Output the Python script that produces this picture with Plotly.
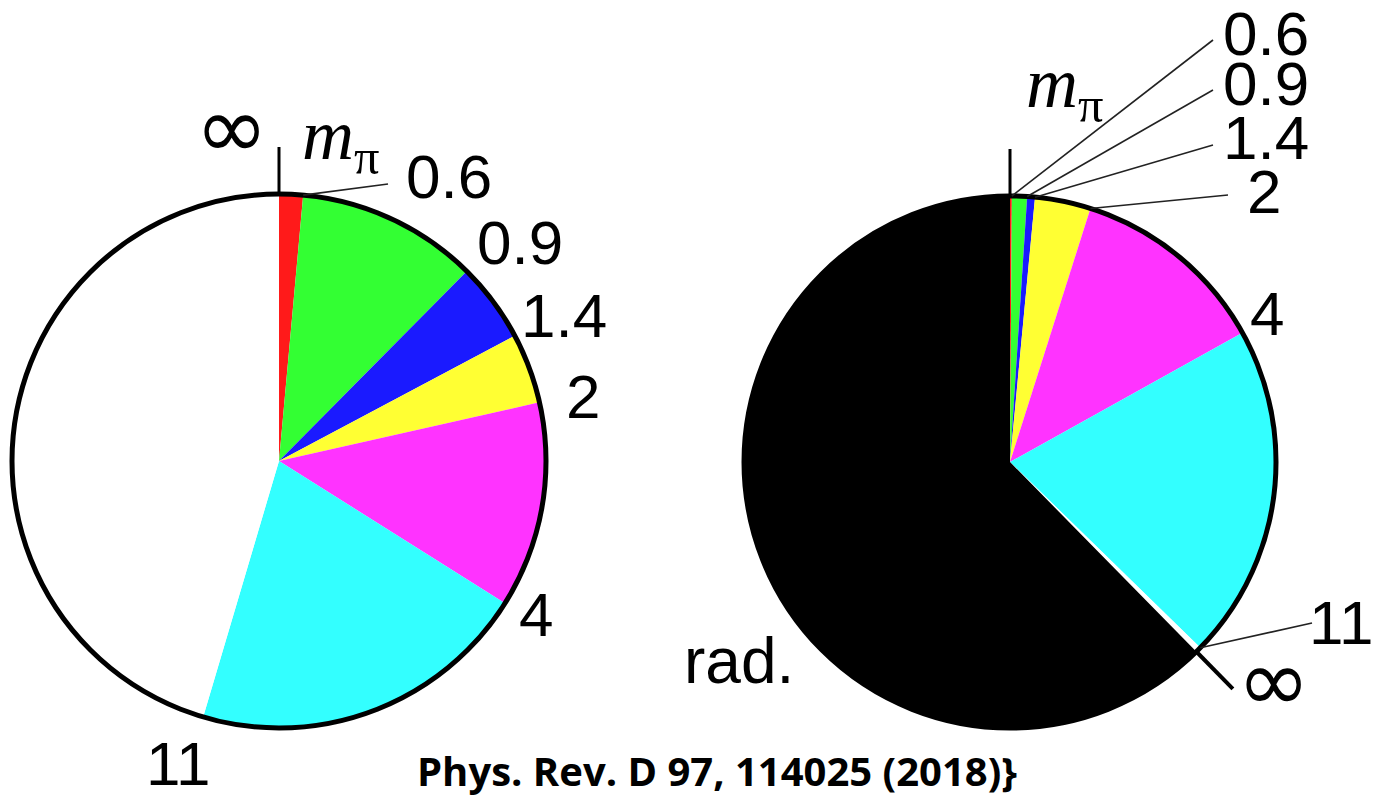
import numpy as np
import plotly.graph_objects as go

# ---------------- data ----------------
left_categories = ["mπ–0.6", "0.6–0.9", "0.9–1.4", "1.4–2", "2–4", "4–11", "11–∞"]
left_values = [5.2, 39.5, 17.3, 15.3, 44.9, 74.3, 163.5]          # degrees
left_colors = ["#ff1a1a", "#33ff33", "#1a1aff", "#ffff33", "#ff33ff", "#33ffff", "#ffffff"]

right_categories = ["mπ–0.6", "0.6–0.9", "0.9–1.4", "1.4–2", "2–4", "4–11", "11–∞", "rad."]
right_values = [0.4, 3.3, 1.7, 12.2, 43.3, 73.4, 1.2, 224.5]       # degrees
right_colors = ["#ff1a1a", "#33ff33", "#1a1aff", "#ffff33", "#ff33ff", "#33ffff", "#ffffff", "#000000"]

boundary_labels_left = ["0.6", "0.9", "1.4", "2", "4", "11"]
boundary_labels_right = ["0.6", "0.9", "1.4", "2", "4", "11"]
citation = "Phys. Rev. D 97, 114025 (2018)}"

# ---------------- layout helpers ----------------
W, H = 1377, 797
def px(x): return x / W
def py(y): return 1 - y / H

L = dict(cx=279, cy=461, r=267)
R = dict(cx=1010, cy=462, r=266)

def bpoint(g, ang, extra=0.0):
    a = np.radians(ang)
    rr = g["r"] + extra
    return g["cx"] + rr * np.sin(a), g["cy"] - rr * np.cos(a)

def cum_angles(vals):
    v = np.array(vals, dtype=float)
    return np.cumsum(v) / v.sum() * 360.0

fig = go.Figure()
for g, cats, vals, cols in [(L, left_categories, left_values, left_colors),
                            (R, right_categories, right_values, right_colors)]:
    fig.add_trace(go.Pie(
        labels=cats, values=vals, sort=False, direction="clockwise", rotation=0,
        marker=dict(colors=cols, line=dict(width=0)),
        textinfo="none", hoverinfo="label", showlegend=False,
        domain=dict(x=[px(g["cx"] - g["r"]), px(g["cx"] + g["r"])],
                    y=[py(g["cy"] + g["r"]), py(g["cy"] - g["r"])]),
    ))

shapes = []
def line(x0, y0, x1, y1, w=1.6, c="#222"):
    shapes.append(dict(type="line", xref="paper", yref="paper",
                       x0=px(x0), y0=py(y0), x1=px(x1), y1=py(y1),
                       line=dict(color=c, width=w)))

for g in (L, R):
    shapes.append(dict(type="circle", xref="paper", yref="paper",
                       x0=px(g["cx"] - g["r"]), x1=px(g["cx"] + g["r"]),
                       y0=py(g["cy"] + g["r"]), y1=py(g["cy"] - g["r"]),
                       line=dict(color="black", width=5)))
    # tick at 12 o'clock
    x0, y0 = bpoint(g, 0)
    x1, y1 = bpoint(g, 0, 47)
    line(x0, y0, x1, y1, w=3, c="black")

cl = cum_angles(left_values)
cr = cum_angles(right_values)

# right "∞" tick at white/black boundary
x0, y0 = bpoint(R, cr[6])
x1, y1 = bpoint(R, cr[6], 52)
line(x0, y0, x1, y1, w=4, c="black")

# leader lines
bx, by = bpoint(L, cl[0]); line(bx, by, 388, 184)
for idx, (ex, ey) in zip([0, 1, 2, 3], [(1213, 40), (1213, 90), (1213, 145), (1228, 195)]):
    bx, by = bpoint(R, cr[idx]); line(bx, by, ex, ey)
bx, by = bpoint(R, cr[5]); line(bx, by, 1312, 623)

FS = 62
font = dict(family="Liberation Sans, Arial, sans-serif", size=FS, color="black")
ann = []
def text(t, x, y, f=font, xa="center"):
    ann.append(dict(text=t, x=px(x), y=py(y), xref="paper", yref="paper",
                    showarrow=False, xanchor=xa, yanchor="middle", font=f))

left_pos = [(449, 177), (520, 242), (564, 315), (583, 397), (536, 614), (178, 763)]
for t, (x, y) in zip(boundary_labels_left, left_pos):
    text(t, x, y)
right_pos = [(1266, 33), (1266, 84), (1266, 138), (1264, 192), (1267, 313), (1341, 622)]
for t, (x, y) in zip(boundary_labels_right, right_pos):
    text(t, x, y)

inf_font = dict(family="DejaVu Sans, sans-serif", size=88, color="black")
text("∞", 231, 128, f=inf_font)
text("∞", 1273, 680, f=inf_font)
text("rad.", 739, 661, f=dict(family="Liberation Sans, Arial, sans-serif", size=64, color="black"))

mfont = dict(family="Liberation Serif, Times New Roman, serif", size=72, color="black")
text("<i>m</i><sub>π</sub>", 340, 140, f=mfont)
text("<i>m</i><sub>π</sub>", 1064, 88, f=mfont)

text("<b>" + citation + "</b>", 717, 770,
     f=dict(family="Open Sans, sans-serif", size=40, color="black"))

fig.update_layout(width=W, height=H, margin=dict(l=0, r=0, t=0, b=0),
                  paper_bgcolor="white", plot_bgcolor="white",
                  shapes=shapes, annotations=ann)
fig.write_html("out.html")
